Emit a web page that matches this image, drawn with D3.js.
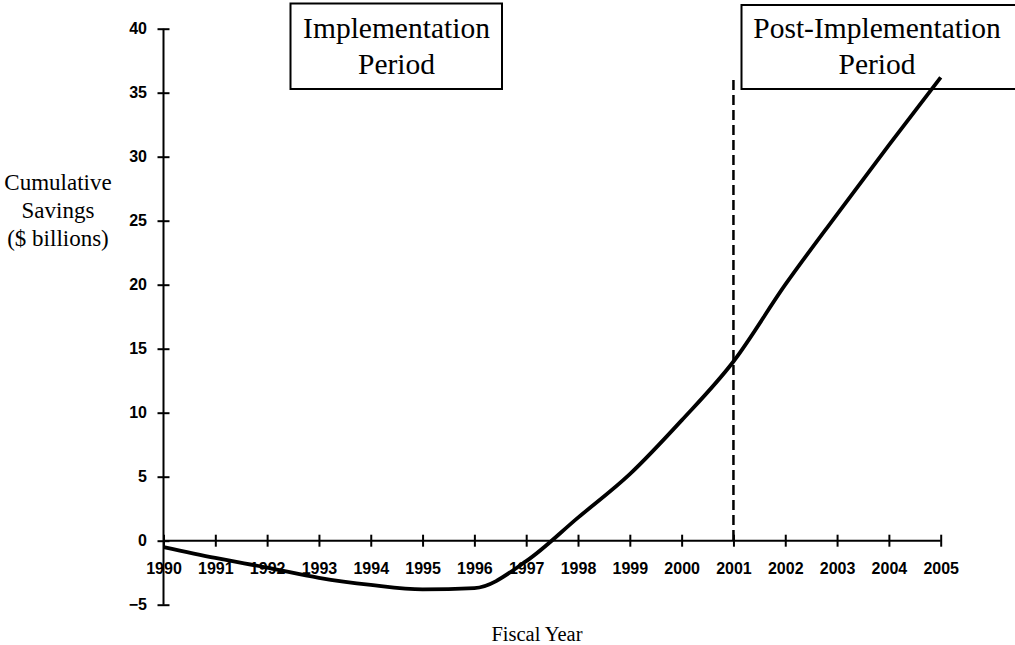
<!DOCTYPE html>
<meta charset="utf-8">
<style>
html,body { margin:0; padding:0; background:#fff; overflow:hidden; }
.tick text { font-family: "Liberation Sans", Arial, sans-serif; font-weight:bold; font-size:16px; fill:#000; }
.axis path, .axis line { stroke:#000; stroke-width:2px; }
.serif { font-family: "Liberation Serif", "Times New Roman", serif; fill:#000; }
</style>
<body>
<svg></svg>
</body>
<script src="https://cdn.jsdelivr.net/npm/d3@7/dist/d3.min.js"></script>
<script>

var years = d3.range(1990, 2006);
var savings = [-0.5, -1.35, -2.1, -2.9, -3.45, -3.8, -3.7, -1.6, 1.8, 5.2, 9.4, 14.0, 20.0, 25.5, 30.9, 36.2];
var yTicks = [-5, 0, 5, 10, 15, 20, 25, 30, 35, 40];
var dividerYear = 2001;
var dividerTop = 36;

var svg = d3.select("svg").attr("width", 1015).attr("height", 645);

var x = d3.scaleLinear().domain([1990, 2005]).range([163.5, 940.7]);
var y = d3.scaleLinear().domain([-5, 40]).range([604.7, 28.7]);

// y axis
var yAxis = svg.append("g").attr("class", "axis")
  .attr("transform", "translate(" + x(1990) + ",0)")
  .call(d3.axisLeft(y).tickValues(yTicks).tickSize(6).tickPadding(10.5));
yAxis.select(".domain").attr("d", "M0," + y(-5) + "V" + y(40));
yAxis.selectAll(".tick line").attr("x1", -6).attr("x2", 6);

// x axis along zero
var xAxis = svg.append("g").attr("class", "axis")
  .attr("transform", "translate(0," + y(0) + ")")
  .call(d3.axisBottom(x).tickValues(years).tickFormat(d3.format("d")).tickSize(6).tickPadding(16));
xAxis.select(".domain").attr("d", "M" + x(1990) + ",0H" + x(2005));
xAxis.selectAll(".tick line").attr("y1", -6).attr("y2", 6);
xAxis.selectAll(".tick text").attr("dy", "0.71em");

// divider
svg.append("line")
  .attr("x1", x(dividerYear)).attr("x2", x(dividerYear))
  .attr("y1", y(dividerTop)).attr("y2", y(0))
  .attr("stroke", "#000").attr("stroke-width", 2.5)
  .attr("stroke-dasharray", "10,5");

// boxes
function box(x0, x1, y0, lines, cx) {
  svg.append("rect").attr("x", x0).attr("y", y0).attr("width", x1 - x0).attr("height", 89 - y0)
    .attr("fill", "#fff").attr("stroke", "#000").attr("stroke-width", 2);
  svg.append("text").attr("class", "serif")
    .attr("x", cx).attr("y", 38).attr("text-anchor", "middle").attr("font-size", 29.5)
    .text(lines[0]);
  svg.append("text").attr("class", "serif")
    .attr("x", cx).attr("y", 74).attr("text-anchor", "middle").attr("font-size", 29.5)
    .text(lines[1]);
}
box(290.5, 502, 3.5, ["Implementation", "Period"], 396.5);
box(741.5, 1020, 5, ["Post-Implementation", "Period"], 877);

// savings line (drawn over the box, as in the original)
var line = d3.line()
  .x(function(d, i) { return x(years[i]); })
  .y(function(d) { return y(d); })
  .curve(d3.curveMonotoneX);

svg.append("path").datum(savings)
  .attr("d", line)
  .attr("fill", "none")
  .attr("stroke", "#000")
  .attr("stroke-width", 3.8);

// axis titles
var yt = ["Cumulative", "Savings", "($ billions)"];
yt.forEach(function(t, i) {
  svg.append("text").attr("class", "serif")
    .attr("x", 58).attr("y", 190 + i * 28).attr("text-anchor", "middle").attr("font-size", 23)
    .text(t);
});
svg.append("text").attr("class", "serif")
  .attr("x", 537).attr("y", 641).attr("text-anchor", "middle").attr("font-size", 20.5)
  .text("Fiscal Year");

</script>
